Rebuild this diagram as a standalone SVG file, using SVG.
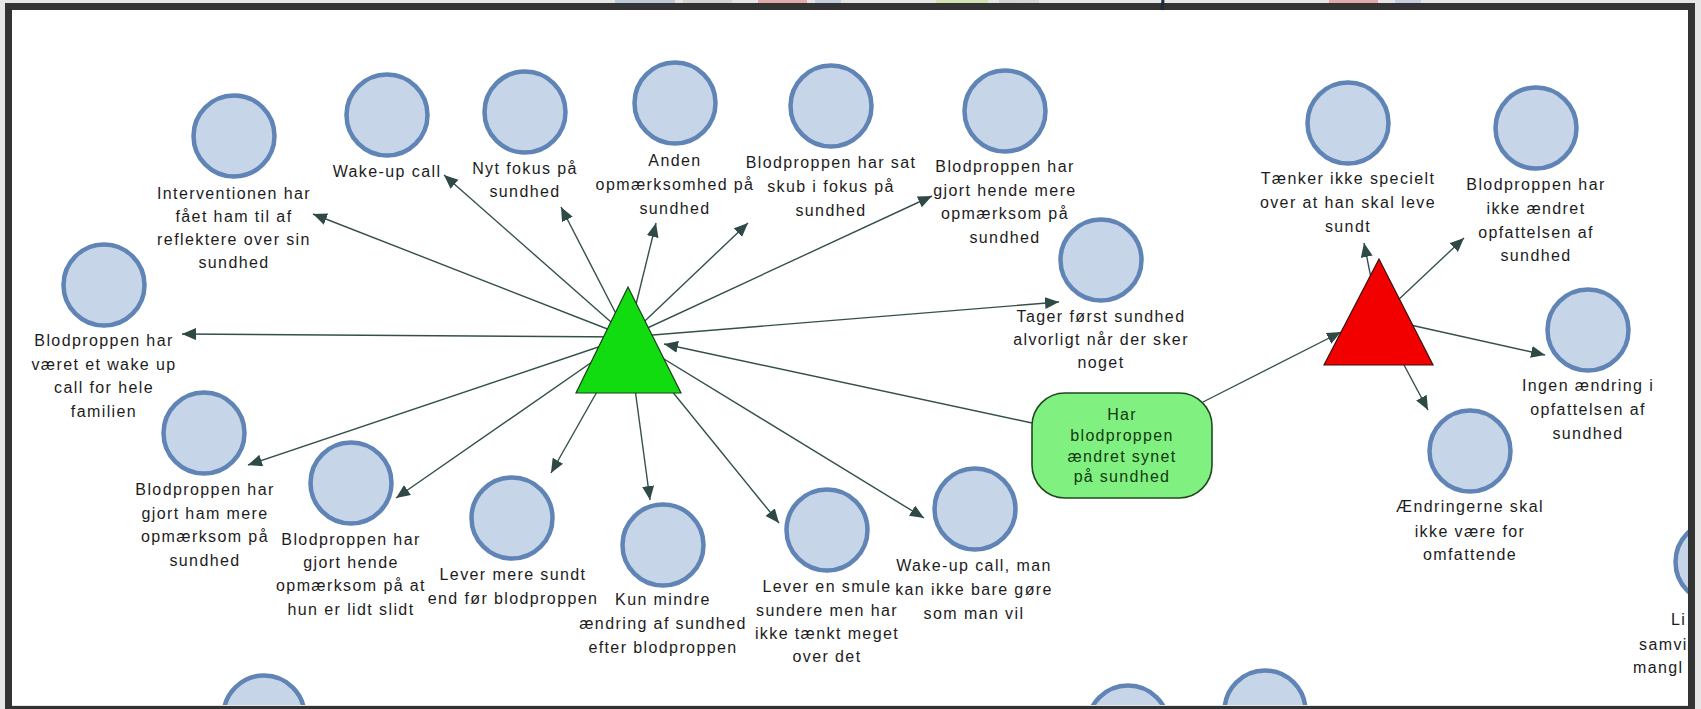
<svg xmlns="http://www.w3.org/2000/svg" width="1701" height="709" viewBox="0 0 1701 709">
<style>
.c{fill:#c6d5e8;stroke:#5f84b5;stroke-width:4.5}
.t{font-family:"Liberation Sans",Arial,sans-serif;font-size:16px;letter-spacing:1.4px;fill:#1c1c1c;text-anchor:middle}
.ts{font-family:"Liberation Sans",Arial,sans-serif;font-size:16px;letter-spacing:1.4px;fill:#1c1c1c}
.bt{font-family:"Liberation Sans",Arial,sans-serif;font-size:16px;letter-spacing:1.3px;fill:#123a12;text-anchor:middle}
.e{fill:none;stroke:#34504c;stroke-width:1.4;marker-end:url(#ah)}
.frag{opacity:0.55}
</style>
<defs>
<marker id="ah" markerUnits="userSpaceOnUse" markerWidth="16" markerHeight="14" refX="14" refY="6" orient="auto">
<path d="M0,0 L14,6 L0,12 z" fill="#2f4a46"/>
</marker>
<clipPath id="inner"><rect x="12" y="10" width="1676" height="695"/></clipPath>
</defs>
<rect x="0" y="0" width="1701" height="709" fill="#e6e6e6"/>
<g id="topstrip" class="frag">
<rect x="615" y="0" width="60" height="3" fill="#9fb4d0"/>
<rect x="683" y="0" width="49" height="3" fill="#c8c8c8"/>
<rect x="758" y="0" width="49" height="3" fill="#e07a7a"/>
<rect x="815" y="0" width="26" height="3" fill="#a9bfdc"/>
<rect x="936" y="0" width="52" height="3" fill="#c4e08a"/>
<rect x="999" y="0" width="40" height="3" fill="#c8c8c8"/>
<rect x="1329" y="0" width="49" height="3" fill="#e07a7a"/>
<rect x="1395" y="0" width="26" height="3" fill="#a9bfdc"/>
</g>
<rect x="12" y="10" width="1676" height="695" fill="#ffffff"/>
<g clip-path="url(#inner)">
<g id="connectors">
<line class="e" x1="628" y1="337" x2="313" y2="214"/>
<line class="e" x1="628" y1="337" x2="444" y2="175"/>
<line class="e" x1="628" y1="337" x2="561" y2="207"/>
<line class="e" x1="628" y1="337" x2="656" y2="223"/>
<line class="e" x1="628" y1="337" x2="748" y2="223"/>
<line class="e" x1="628" y1="337" x2="932" y2="196"/>
<line class="e" x1="628" y1="337" x2="1059" y2="302"/>
<line class="e" x1="628" y1="337" x2="182" y2="334"/>
<line class="e" x1="628" y1="337" x2="248" y2="465"/>
<line class="e" x1="628" y1="337" x2="396" y2="498"/>
<line class="e" x1="628" y1="337" x2="551" y2="473"/>
<line class="e" x1="628" y1="337" x2="650" y2="500"/>
<line class="e" x1="628" y1="337" x2="779" y2="523"/>
<line class="e" x1="628" y1="337" x2="924" y2="518"/>
<line class="e" x1="1032" y1="423" x2="664" y2="344"/>
<line class="e" x1="1203" y1="402" x2="1341" y2="332"/>
<line class="e" x1="1379" y1="318" x2="1364" y2="243"/>
<line class="e" x1="1379" y1="318" x2="1464" y2="238"/>
<line class="e" x1="1379" y1="318" x2="1545" y2="355"/>
<line class="e" x1="1379" y1="318" x2="1428" y2="410"/>
</g>
<g id="hub-green"><polygon points="628,287 576,393 681,393" fill="#10dc10" stroke="#1d3d1d" stroke-width="1.2"/></g>
<g id="hub-red"><polygon points="1379,259 1324,365 1433,365" fill="#f20000" stroke="#3a1010" stroke-width="1.2"/></g>
<g id="question">
<rect x="1032" y="393" width="180" height="105" rx="33" fill="#80f080" stroke="#1f4a1f" stroke-width="1.6"/>
<text class="bt" x="1122" y="420">Har</text>
<text class="bt" x="1122" y="441">blodproppen</text>
<text class="bt" x="1122" y="462">ændret synet</text>
<text class="bt" x="1122" y="482">på sundhed</text>
</g>
<g id="n1"><circle class="c" cx="234" cy="136" r="40.5"/>
<text class="t" x="234" y="199">Interventionen har</text><text class="t" x="234" y="222">fået ham til af</text><text class="t" x="234" y="245">reflektere over sin</text><text class="t" x="234" y="268">sundhed</text></g>
<g id="n2"><circle class="c" cx="387" cy="115" r="40.5"/>
<text class="t" x="387" y="177">Wake-up call</text></g>
<g id="n3"><circle class="c" cx="525" cy="112" r="40.5"/>
<text class="t" x="525" y="174">Nyt fokus på</text><text class="t" x="525" y="197">sundhed</text></g>
<g id="n4"><circle class="c" cx="675" cy="103" r="40.5"/>
<text class="t" x="675" y="166">Anden</text><text class="t" x="675" y="190">opmærksomhed på</text><text class="t" x="675" y="214">sundhed</text></g>
<g id="n5"><circle class="c" cx="831" cy="106" r="40.5"/>
<text class="t" x="831" y="168">Blodproppen har sat</text><text class="t" x="831" y="192">skub i fokus på</text><text class="t" x="831" y="216">sundhed</text></g>
<g id="n6"><circle class="c" cx="1005" cy="111" r="40.5"/>
<text class="t" x="1005" y="172">Blodproppen har</text><text class="t" x="1005" y="196">gjort hende mere</text><text class="t" x="1005" y="219">opmærksom på</text><text class="t" x="1005" y="243">sundhed</text></g>
<g id="n7"><circle class="c" cx="1101" cy="260" r="40.5"/>
<text class="t" x="1101" y="322">Tager først sundhed</text><text class="t" x="1101" y="345">alvorligt når der sker</text><text class="t" x="1101" y="368">noget</text></g>
<g id="n8"><circle class="c" cx="104" cy="285" r="40.5"/>
<text class="t" x="104" y="346">Blodproppen har</text><text class="t" x="104" y="370">været et wake up</text><text class="t" x="104" y="393">call for hele</text><text class="t" x="104" y="417">familien</text></g>
<g id="n9"><circle class="c" cx="204" cy="433" r="40.5"/>
<text class="t" x="205" y="495">Blodproppen har</text><text class="t" x="205" y="519">gjort ham mere</text><text class="t" x="205" y="542">opmærksom på</text><text class="t" x="205" y="566">sundhed</text></g>
<g id="n10"><circle class="c" cx="351" cy="483" r="40.5"/>
<text class="t" x="351" y="545">Blodproppen har</text><text class="t" x="351" y="568">gjort hende</text><text class="t" x="351" y="591">opmærksom på at</text><text class="t" x="351" y="615">hun er lidt slidt</text></g>
<g id="n11"><circle class="c" cx="512" cy="518" r="40.5"/>
<text class="t" x="513" y="580">Lever mere sundt</text><text class="t" x="513" y="604">end før blodproppen</text></g>
<g id="n12"><circle class="c" cx="663" cy="545" r="40.5"/>
<text class="t" x="663" y="605">Kun mindre</text><text class="t" x="663" y="629">ændring af sundhed</text><text class="t" x="663" y="653">efter blodproppen</text></g>
<g id="n13"><circle class="c" cx="827" cy="530" r="40.5"/>
<text class="t" x="827" y="592">Lever en smule</text><text class="t" x="827" y="616">sundere men har</text><text class="t" x="827" y="639">ikke tænkt meget</text><text class="t" x="827" y="662">over det</text></g>
<g id="n14"><circle class="c" cx="975" cy="509" r="40.5"/>
<text class="t" x="974" y="571">Wake-up call, man</text><text class="t" x="974" y="595">kan ikke bare gøre</text><text class="t" x="974" y="619">som man vil</text></g>
<g id="n15"><circle class="c" cx="1348" cy="123" r="40.5"/>
<text class="t" x="1348" y="184">Tænker ikke specielt</text><text class="t" x="1348" y="208">over at han skal leve</text><text class="t" x="1348" y="232">sundt</text></g>
<g id="n16"><circle class="c" cx="1536" cy="128" r="40.5"/>
<text class="t" x="1536" y="190">Blodproppen har</text><text class="t" x="1536" y="214">ikke ændret</text><text class="t" x="1536" y="238">opfattelsen af</text><text class="t" x="1536" y="261">sundhed</text></g>
<g id="n17"><circle class="c" cx="1588" cy="330" r="40.5"/>
<text class="t" x="1588" y="391">Ingen ændring i</text><text class="t" x="1588" y="415">opfattelsen af</text><text class="t" x="1588" y="439">sundhed</text></g>
<g id="n18"><circle class="c" cx="1470" cy="451" r="40.5"/>
<text class="t" x="1470" y="512">Ændringerne skal</text><text class="t" x="1470" y="537">ikke være for</text><text class="t" x="1470" y="560">omfattende</text></g>
<g id="n19"><circle class="c" cx="1716" cy="562" r="40.5"/>
<text class="ts" x="1671" y="625">Li</text><text class="ts" x="1639" y="650">samvi</text><text class="ts" x="1633" y="673">mangl</text></g>
<g id="n20"><circle class="c" cx="264" cy="716" r="40.5"/></g>
<g id="n21"><circle class="c" cx="1128" cy="726" r="40.5"/></g>
<g id="n22"><circle class="c" cx="1265" cy="711" r="40.5"/></g>
<g id="n23"><circle class="c" cx="1717" cy="740" r="40.5"/></g>
</g>
<rect x="8.5" y="6.5" width="1683" height="703" fill="none" stroke="#333333" stroke-width="7"/>
<line x1="1163" y1="0" x2="1162" y2="10" stroke="#1c2a3c" stroke-width="3"/>
</svg>
